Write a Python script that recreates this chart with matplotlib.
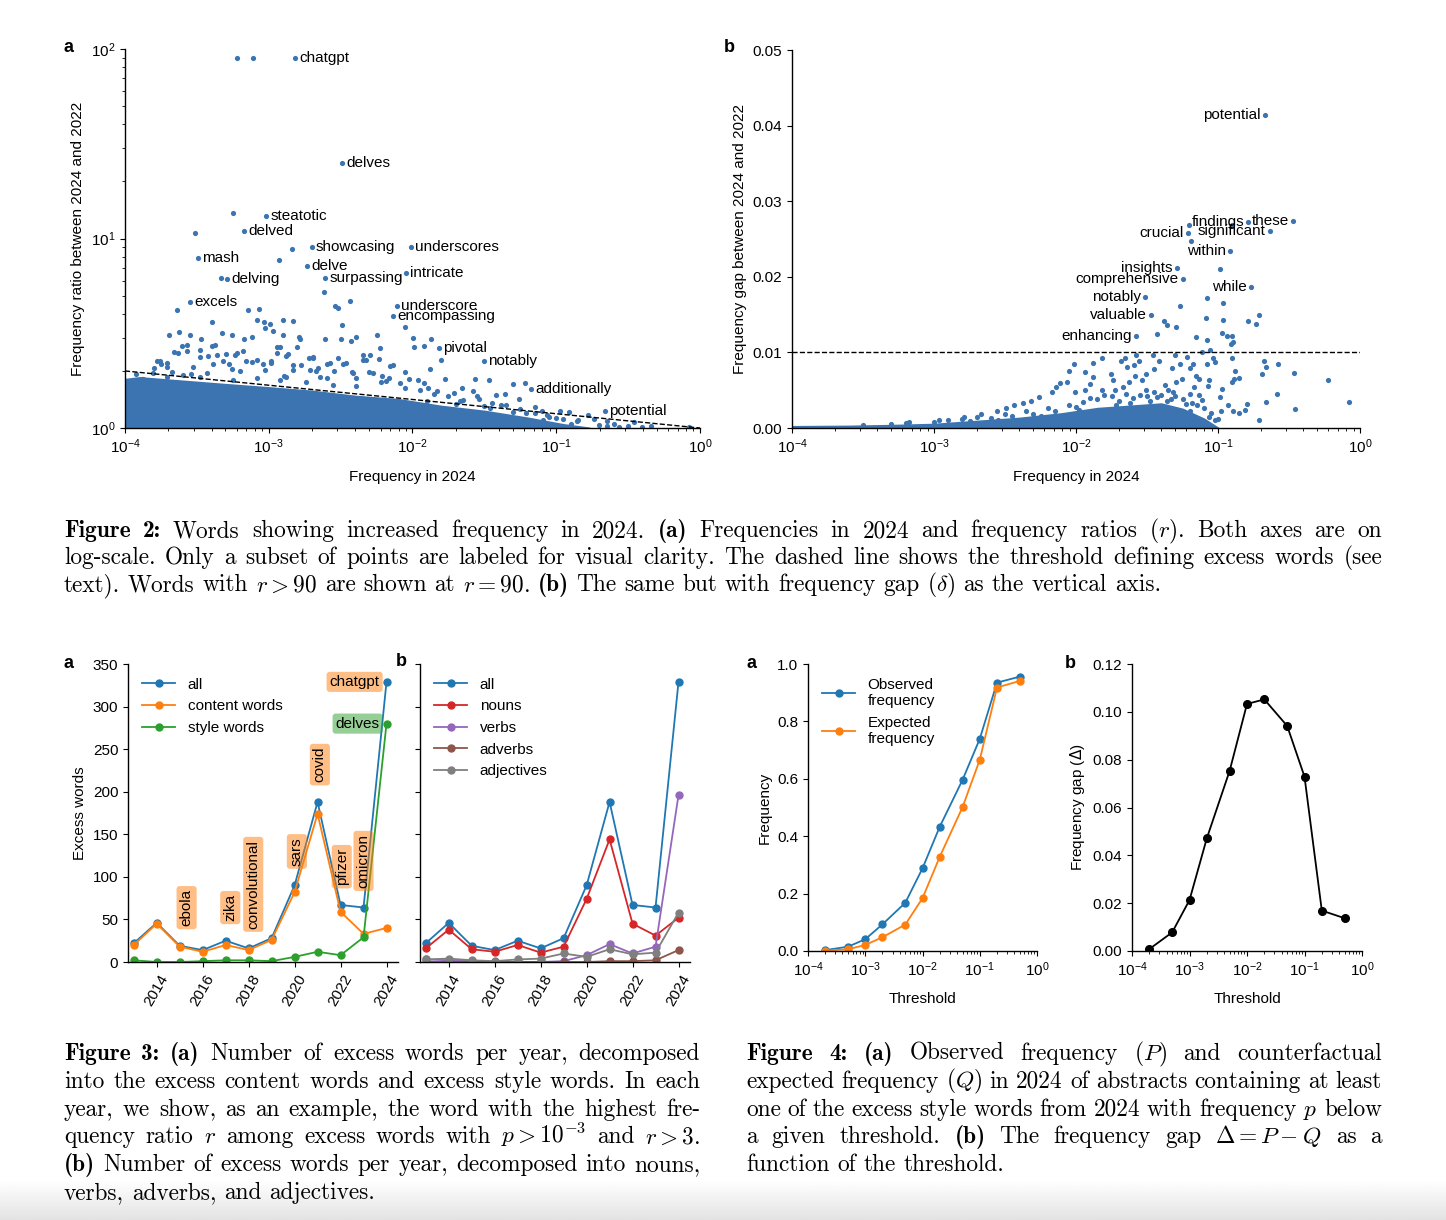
import numpy as np
import matplotlib
matplotlib.use("Agg")
import matplotlib.pyplot as plt

plt.rcParams['font.family'] = ['Liberation Sans', 'DejaVu Sans']
plt.rcParams['font.size'] = 11
plt.rcParams['axes.spines.top'] = False
plt.rcParams['axes.spines.right'] = False
plt.rcParams['axes.linewidth'] = 1.0

W, H = 1446, 1220
BLUE = '#3b74b0'

# ---------------- Figure 2a: frequency in 2024 vs ratio (log10 values)
words_a = ['chatgpt', 'delves', 'steatotic', 'delved', 'showcasing', 'underscores', 'mash', 'delve',
           'intricate', 'delving', 'surpassing', 'excels', 'underscore', 'encompassing', 'pivotal',
           'notably', 'additionally', 'potential']
words_a_logf = [-2.819, -2.489, -3.017, -3.173, -2.701, -2.013, -3.492, -2.734,
                -2.043, -3.291, -2.607, -3.548, -2.111, -2.134, -1.818,
                -1.506, -1.175, -0.661]
words_a_logr = [1.954, 1.401, 1.117, 1.039, 0.957, 0.957, 0.895, 0.856,
                0.819, 0.784, 0.791, 0.665, 0.642, 0.592, 0.420,
                0.355, 0.204, 0.089]

# other visible points of panel a
other_a_logf = [-3.218, -3.109, -3.247, -3.513, -2.840, -2.928, -3.330, -2.616, -2.435,
                -3.637, -3.144, -3.070, -2.539, -2.515, -3.395, -3.079, -3.032, -2.990, -2.899,
                -2.828, -2.489, -3.696, -3.625, -3.548, -3.327, -3.256, -3.026, -2.973, -2.899,
                -2.793, -2.781, -2.610, -2.497, -2.427, -2.394, -2.244, -2.052, -1.999, -1.872,
                -1.993, -1.919, -2.229, -1.801, -1.877, -3.661, -3.601, -3.472, -3.475, -3.395,
                -3.173, -3.114, -2.946, -2.869, -2.804, -2.943, -3.297, -3.238, -3.179, -3.572,
                -2.722, -2.695, -2.598, -2.480, -2.341, -2.297, -2.235, -2.155, -1.771, -1.565,
                -1.467, -1.299, -1.216, -1.260, -1.358, -1.417, -1.653, -1.712, -1.579, -0.974,
                -0.909, -0.779, -0.738, -0.649, -0.561, -0.458, -0.339, -0.074, -3.779, -3.749,
                -3.796, -3.705, -3.424, -3.386, -3.277, -3.203, -3.114, -3.041, -2.982, -2.834,
                -2.716, -2.672, -2.545, -2.421, -2.391, -2.303, -2.214, -2.052, -2.022, -1.963,
                -1.919, -1.889, -1.830, -2.185, -2.090, -1.535, -1.151, -1.063, -1.387, -1.092,
                -0.856, -1.461, -1.668, -1.210, -3.926, -3.962, -3.882, -3.542, -2.893, -2.598,
                -0.649, -1.004,
                # points hugging the dense cloud
                -3.757, -3.711, -3.931, -3.873, -3.803, -3.676, -3.630, -3.567, -3.479, -3.526,
                -3.433, -3.375, -3.359, -3.317, -3.259, -3.224, -3.155, -3.085, -3.028, -2.981,
                -2.924, -2.877, -2.831, -2.773, -2.692, -2.658, -2.576, -2.519, -2.461, -2.414,
                -2.345, -2.322, -2.276, -2.217, -2.160, -2.137, -3.248, -3.085, -2.924, -2.738,
                -2.553, -2.391, -3.479, -3.595, -3.711, -2.877, -2.646,
                -1.95, -1.85, -1.75, -1.65, -1.55, -1.45, -1.35, -1.25, -1.15, -1.05,
                -0.95, -0.85, -2.05, -1.90, -1.70, -1.50, -1.30, -1.10, -0.90, -0.70,
                -0.60, -0.50, -0.40]
other_a_logr = [1.954, 1.954, 1.133, 1.028, 0.947, 0.887, 0.794, 0.716, 0.670,
                0.621, 0.624, 0.628, 0.645, 0.635, 0.557, 0.571, 0.557, 0.550, 0.571,
                0.567, 0.546, 0.493, 0.507, 0.493, 0.502, 0.493, 0.528, 0.514, 0.493,
                0.482, 0.468, 0.470, 0.472, 0.461, 0.479, 0.493, 0.532, 0.475, 0.470,
                0.429, 0.434, 0.422, 0.358, 0.309, 0.399, 0.434, 0.470, 0.411, 0.433,
                0.470, 0.482, 0.426, 0.390, 0.429, 0.397, 0.390, 0.387, 0.404, 0.408,
                0.369, 0.369, 0.340, 0.337, 0.358, 0.387, 0.363, 0.328, 0.257, 0.261,
                0.254, 0.234, 0.239, 0.151, 0.177, 0.172, 0.209, 0.186, 0.195, 0.092,
                0.083, 0.071, 0.048, 0.009, 0.004, 0.032, 0.009, 0.004, 0.351, 0.337,
                0.319, 0.323, 0.381, 0.337, 0.337, 0.301, 0.346, 0.340, 0.355, 0.333,
                0.305, 0.301, 0.301, 0.293, 0.262, 0.293, 0.275, 0.293, 0.257, 0.252,
                0.239, 0.213, 0.195, 0.248, 0.239, 0.151, 0.110, 0.071, 0.124, 0.044,
                0.035, 0.106, 0.142, 0.080, 0.284, 0.239, 0.257, 0.284, 0.275, 0.266,
                0.035, 0.053,
                0.351, 0.342, 0.245, 0.258, 0.289, 0.298, 0.398, 0.439, 0.377, 0.324,
                0.289, 0.439, 0.386, 0.351, 0.311, 0.395, 0.351, 0.360, 0.307, 0.342,
                0.427, 0.381, 0.307, 0.333, 0.377, 0.316, 0.342, 0.369, 0.342, 0.289,
                0.386, 0.360, 0.289, 0.245, 0.263, 0.333, 0.254, 0.263, 0.254, 0.245,
                0.228, 0.219, 0.271, 0.280, 0.271, 0.271, 0.271,
                0.200, 0.180, 0.170, 0.150, 0.170, 0.130, 0.120, 0.100, 0.080, 0.060,
                0.050, 0.040, 0.210, 0.145, 0.125, 0.115, 0.085, 0.090, 0.020, 0.015,
                0.020, 0.012, 0.005]

# upper edge of the dense cloud of points in panel a
cloud_a_logf = [-4.0, -3.9, -3.75, -3.6, -3.3, -3.0, -2.7, -2.4, -2.1, -1.8, -1.5, -1.2, -0.95, -0.77]
cloud_a_logr = [0.257, 0.266, 0.257, 0.248, 0.230, 0.213, 0.195, 0.168, 0.151, 0.115, 0.089, 0.053, 0.018, 0.0]

# threshold (dashed) line
thr_a_f = [1e-4, 1.0]
thr_a_r = [2.0, 1.0]

# ---------------- Figure 2b: frequency gap
words_b = ['potential', 'these', 'findings', 'significant', 'crucial', 'within', 'insights',
           'comprehensive', 'while', 'notably', 'valuable', 'enhancing']
words_b_logf = [-0.670, -0.472, -0.788, -0.635, -1.210, -0.915, -1.290,
                -1.249, -0.768, -1.514, -1.470, -1.579]
words_b_gap = [0.0414, 0.0274, 0.0273, 0.0260, 0.0258, 0.0234, 0.0212,
               0.0197, 0.0186, 0.0173, 0.0150, 0.0122]

other_b_logf = [-1.204, -1.190, -0.900, -0.989, -1.077, -0.968, -1.269, -0.711, -0.788, -0.729,
                -1.083, -0.968, -1.382, -1.358, -1.299, -1.430, -1.158, -0.974, -0.935, -0.900,
                -1.077, -0.906, -0.892, -1.054, -1.116,
                -0.227, -0.074, -0.458, -0.466, -0.576, -0.664, -0.688, -0.679, -0.582, -0.664,
                -0.711, -0.797, -0.812, -0.850, -0.894, -0.930, -0.980, -0.877, -0.886, -0.850,
                -0.900, -0.900, -0.974, -0.989, -1.063, -1.072, -1.018, -1.033, -1.077, -1.137,
                -1.157, -1.166, -1.137, -1.113, -1.175, -1.196, -1.216, -1.269, -1.255, -1.305,
                -1.322, -1.299, -1.314, -1.373, -1.417, -1.452, -1.461, -1.506, -1.535, -1.556,
                -1.579, -1.594, -1.638, -1.653, -1.683, -1.585, -1.624, -1.668, -1.742, -1.756,
                -1.815, -1.883, -1.939, -2.013, -2.052, -2.066, -2.111, -2.140, -1.880, -1.815,
                -1.934, -2.007, -1.904, -1.727, -1.506, -1.432, -1.358, -1.225, -1.196, -1.063,
                -1.018, -2.258, -2.317, -2.435, -2.553, -2.672, -2.790, -2.967, -3.173, -2.170,
                -2.376, -2.494,
                # points hugging the dense cloud
                -3.0, -2.9, -2.8, -2.7, -2.6, -2.5, -2.45, -2.35, -2.3, -2.2,
                -2.15, -2.05, -2.0, -1.95, -1.9, -1.85, -1.8, -1.75, -1.7, -1.65,
                -1.6, -1.55, -1.5, -1.45, -1.4, -1.35, -1.3, -1.25, -1.2, -1.15,
                -1.1, -1.05, -1.0, -3.3, -3.5, -3.2, -2.75, -2.55, -2.25, -1.98,
                -1.72, -1.62, -1.48, -1.33, -1.18]
other_b_gap = [0.0268, 0.0248, 0.0268, 0.0210, 0.0172, 0.0166, 0.0162, 0.0150, 0.0142, 0.0138,
               0.0146, 0.0143, 0.0141, 0.0136, 0.0133, 0.0124, 0.0121, 0.0126, 0.0122, 0.0122,
               0.0116, 0.0111, 0.0114, 0.0103, 0.0100,
               0.0063, 0.0034, 0.0025, 0.0073, 0.0085, 0.0081, 0.0072, 0.0088, 0.0045, 0.0035,
               0.0011, 0.0032, 0.0024, 0.0020, 0.0022, 0.0030, 0.0022, 0.0076, 0.0065, 0.0066,
               0.0061, 0.0092, 0.0051, 0.0041, 0.0063, 0.0055, 0.0087, 0.0092, 0.0085, 0.0065,
               0.0069, 0.0054, 0.0043, 0.0037, 0.0085, 0.0080, 0.0094, 0.0084, 0.0065, 0.0096,
               0.0079, 0.0061, 0.0047, 0.0057, 0.0089, 0.0078, 0.0096, 0.0071, 0.0063, 0.0089,
               0.0096, 0.0083, 0.0081, 0.0092, 0.0089, 0.0069, 0.0061, 0.0054, 0.0063, 0.0072,
               0.0092, 0.0086, 0.0074, 0.0085, 0.0075, 0.0061, 0.0059, 0.0054, 0.0067, 0.0050,
               0.0050, 0.0047, 0.0058, 0.0050, 0.0050, 0.0041, 0.0036, 0.0032, 0.0023, 0.0014,
               0.0010, 0.0041, 0.0036, 0.0030, 0.0023, 0.0019, 0.0014, 0.0011, 0.0008, 0.0047,
               0.0033, 0.0027,
               0.0008, 0.0010, 0.0012, 0.0015, 0.0013, 0.0018, 0.0016, 0.0022, 0.0019, 0.0026,
               0.0022, 0.0030, 0.0028, 0.0035, 0.0040, 0.0038, 0.0044, 0.0042, 0.0036, 0.0045,
               0.0040, 0.0044, 0.0042, 0.0047, 0.0044, 0.0050, 0.0042, 0.0039, 0.0045, 0.0030,
               0.0026, 0.0020, 0.0012, 0.0005, 0.0004, 0.0006, 0.0009, 0.0011, 0.0016, 0.0024,
               0.0030, 0.0033, 0.0036, 0.0038, 0.0033]

cloud_b_logf = [-4.0, -3.6, -3.3, -3.0, -2.7, -2.4, -2.1, -1.85, -1.55, -1.40, -1.25, -1.10, -1.00]
cloud_b_gap = [0.0002, 0.00025, 0.00035, 0.0005, 0.0009, 0.0013, 0.0019, 0.0026, 0.0030, 0.0032,
               0.0025, 0.0012, 0.0]

gap_threshold = 0.01

# ---------------- Figure 3: excess words per year
years = [2013, 2014, 2015, 2016, 2017, 2018, 2019, 2020, 2021, 2022, 2023, 2024]
all_words = [22, 46, 19, 14, 25, 16, 28, 90, 188, 67, 64, 329]
content_words = [20, 45, 18, 12, 20, 14, 26, 82, 174, 59, 33, 40]
style_words = [2, 0, 0, 1, 2, 2, 1, 6, 12, 8, 29, 280]
nouns = [16, 38, 15, 12, 20, 11, 18, 74, 144, 45, 31, 52]
verbs = [3, 2, 1, 0, 0, 0, 1, 8, 21, 10, 18, 196]
adverbs = [0, 0, 0, 0, 0, 0, 0, 0, 1, 1, 2, 14]
adjectives = [3, 4, 2, 1, 3, 4, 10, 6, 15, 9, 11, 58]

top_word_years = [2015, 2017, 2018, 2020, 2021, 2022, 2023]
top_words = ['ebola', 'zika', 'convolutional', 'sars', 'covid', 'pfizer', 'omicron']
top_word_shift = [0.3, 0.2, 0.2, 0.1, 0.1, 0.05, 0.0]   # small x nudges of the labels

# ---------------- Figure 4: observed vs expected frequency
thresholds = [2e-4, 5e-4, 1e-3, 2e-3, 5e-3, 1e-2, 2e-2, 5e-2, 0.1, 0.2, 0.5]
observed = [0.003, 0.015, 0.041, 0.093, 0.168, 0.288, 0.433, 0.596, 0.739, 0.935, 0.956]
expected = [0.001, 0.006, 0.021, 0.048, 0.092, 0.184, 0.328, 0.501, 0.666, 0.918, 0.941]
freq_gap = [0.0008, 0.0078, 0.0213, 0.0471, 0.0754, 0.1033, 0.1052, 0.0941, 0.0729, 0.0169, 0.0137]


def px_axes(fig, left, top, right, bottom):
    return fig.add_axes([left / W, 1 - bottom / H, (right - left) / W, (bottom - top) / H])


def panel_letter(fig, x, y, s):
    fig.text(x / W, 1 - y / H, s, fontsize=13, fontweight='bold', ha='center', va='center')


def caption(fig, lines, x0, x1, y0, dy, size=16.8):
    """Justified caption lines drawn word by word; '**' marks a bold word."""
    renderer = fig.canvas.get_renderer()
    for i, (line, last) in enumerate(lines):
        words = line.split(' ')
        y = 1 - (y0 + i * dy) / H
        texts = []
        for w in words:
            fam = 'cmr10'
            if w.startswith('**'):
                fam, w = 'cmb10', w[2:]
            texts.append(fig.text(0, y, w, fontsize=size, family=fam, math_fontfamily='cm',
                                  va='baseline', ha='left'))
        widths = [t.get_window_extent(renderer).width for t in texts]
        if last or len(words) == 1:
            gap = size * 0.333 * 100 / 72
        else:
            gap = (x1 - x0 - sum(widths)) / (len(words) - 1)
        x = x0
        for t, wd in zip(texts, widths):
            t.set_x(x / W)
            x += wd + gap


fig = plt.figure(figsize=(W / 100, H / 100), dpi=100)

# background shading at the bottom of the page
bg = fig.add_axes([0, 0, 1, 40 / H], zorder=-10)
bg.imshow(np.linspace(1, 0, 50).reshape(-1, 1), aspect='auto', cmap='gray',
          vmin=-8, vmax=1, extent=[0, 1, 0, 1])
bg.axis('off')

# ---- panel 2a
ax = px_axes(fig, 125, 49, 700, 428)
ax.fill_between(10 ** np.array(cloud_a_logf), 1, 10 ** np.array(cloud_a_logr), color=BLUE, lw=1.5,
                edgecolor=BLUE)
ax.scatter(10 ** np.array(other_a_logf), 10 ** np.array(other_a_logr), s=14, color=BLUE, lw=0)
ax.scatter(10 ** np.array(words_a_logf), 10 ** np.array(words_a_logr), s=14, color=BLUE, lw=0)
for w, lf, lr in zip(words_a, words_a_logf, words_a_logr):
    ax.annotate(w, (10 ** lf, 10 ** lr), xytext=(3, 0), textcoords='offset points',
                ha='left', va='center', fontsize=11)
ax.plot(thr_a_f, thr_a_r, 'k--', lw=1)
ax.set_xscale('log')
ax.set_yscale('log')
ax.set_xlim(1e-4, 1)
ax.set_ylim(1, 100)
ax.set_xlabel('Frequency in 2024', labelpad=10)
ax.set_ylabel('Frequency ratio between 2024 and 2022')
panel_letter(fig, 69, 48, 'a')

# ---- panel 2b
ax = px_axes(fig, 792, 50, 1360, 428)
ax.fill_between(10 ** np.array(cloud_b_logf), 0, cloud_b_gap, color=BLUE, lw=1.5, edgecolor=BLUE)
ax.scatter(10 ** np.array(other_b_logf), other_b_gap, s=14, color=BLUE, lw=0)
ax.scatter(10 ** np.array(words_b_logf), words_b_gap, s=14, color=BLUE, lw=0)
for w, lf, g in zip(words_b, words_b_logf, words_b_gap):
    ax.annotate(w, (10 ** lf, g), xytext=(-3, 0), textcoords='offset points',
                ha='right', va='center', fontsize=11)
ax.axhline(gap_threshold, color='k', ls='--', lw=1)
ax.set_xscale('log')
ax.set_xlim(1e-4, 1)
ax.set_ylim(0, 0.05)
ax.set_yticks(np.arange(0, 0.051, 0.01))
ax.set_xlabel('Frequency in 2024', labelpad=10)
ax.set_ylabel('Frequency gap between 2024 and 2022')
panel_letter(fig, 729, 48, 'b')

# ---- panel 3a
ax = px_axes(fig, 128, 664, 398, 962)
ax.plot(years, all_words, 'o-', color='tab:blue', lw=1.3, ms=5, label='all')
ax.plot(years, content_words, 'o-', color='tab:orange', lw=1.3, ms=5, label='content words')
ax.plot(years, style_words, 'o-', color='tab:green', lw=1.3, ms=5, label='style words')
for yr, w, dx in zip(top_word_years, top_words, top_word_shift):
    v = all_words[years.index(yr)]
    ax.text(yr + dx, v + 23, w, rotation=90, ha='center', va='bottom', fontsize=11,
            bbox=dict(boxstyle='round,pad=0.2', fc='tab:orange', ec='none', alpha=0.5))
ax.text(2024 - 0.3, all_words[-1], 'chatgpt', ha='right', va='center', fontsize=11,
        bbox=dict(boxstyle='round,pad=0.2', fc='tab:orange', ec='none', alpha=0.5))
ax.text(2024 - 0.3, style_words[-1], 'delves', ha='right', va='center', fontsize=11,
        bbox=dict(boxstyle='round,pad=0.2', fc='tab:green', ec='none', alpha=0.5))
ax.set_xlim(2012.75, 2024.5)
ax.set_ylim(0, 350)
ax.set_yticks(range(0, 351, 50))
ax.set_xticks(range(2014, 2025, 2))
ax.tick_params(axis='x', labelrotation=60)
ax.set_ylabel('Excess words')
ax.legend(loc='upper left', frameon=False, fontsize=11, handlelength=2.2)
panel_letter(fig, 69, 663, 'a')

# ---- panel 3b
ax = px_axes(fig, 420, 664, 690, 962)
ax.plot(years, all_words, 'o-', color='tab:blue', lw=1.3, ms=5, label='all')
ax.plot(years, nouns, 'o-', color='tab:red', lw=1.3, ms=5, label='nouns')
ax.plot(years, verbs, 'o-', color='tab:purple', lw=1.3, ms=5, label='verbs')
ax.plot(years, adverbs, 'o-', color='tab:brown', lw=1.3, ms=5, label='adverbs')
ax.plot(years, adjectives, 'o-', color='tab:gray', lw=1.3, ms=5, label='adjectives')
ax.set_xlim(2012.75, 2024.5)
ax.set_ylim(0, 350)
ax.set_yticks(range(0, 351, 50))
ax.set_yticklabels([])
ax.set_xticks(range(2014, 2025, 2))
ax.tick_params(axis='x', labelrotation=60)
ax.legend(loc='upper left', frameon=False, fontsize=11, handlelength=2.2)
panel_letter(fig, 401, 662, 'b')

# ---- panel 4a
ax = px_axes(fig, 808, 664, 1037, 951)
ax.plot(thresholds, observed, 'o-', color='tab:blue', lw=1.3, ms=5, label='Observed\nfrequency')
ax.plot(thresholds, expected, 'o-', color='tab:orange', lw=1.3, ms=5, label='Expected\nfrequency')
ax.set_xscale('log')
ax.set_xlim(1e-4, 1)
ax.set_ylim(0, 1.0)
ax.set_yticks(np.arange(0, 1.01, 0.2))
ax.set_xlabel('Threshold', labelpad=9)
ax.set_ylabel('Frequency')
ax.legend(loc='upper left', frameon=False, fontsize=11, handlelength=2.2)
panel_letter(fig, 751, 663, 'a')

# ---- panel 4b
ax = px_axes(fig, 1132, 664, 1362, 951)
ax.plot(thresholds, freq_gap, 'o-', color='k', lw=1.3, ms=5.5)
ax.set_xscale('log')
ax.set_xlim(1e-4, 1)
ax.set_ylim(0, 0.12)
ax.set_yticks(np.arange(0, 0.121, 0.02))
ax.set_xlabel('Threshold', labelpad=9)
ax.set_ylabel(r'Frequency gap ($\mathit{\Delta}$)')
panel_letter(fig, 1070, 663, 'b')

# ---- captions
cap2 = [
    (r'**Figure **2: Words showing increased frequency in 2024. **(a) '
     r'Frequencies in 2024 and frequency ratios $(r)$. Both axes are on', False),
    ('log-scale. Only a subset of points are labeled for visual clarity. The dashed line shows '
     'the threshold defining excess words (see', False),
    (r'text). Words with $r>90$ are shown at $r=90$. **(b) The same but with frequency '
     r'gap $(\delta)$ as the vertical axis.', True),
]
cap3 = [
    (r'**Figure **3: **(a) Number of excess words per year, decomposed', False),
    ('into the excess content words and excess style words. In each', False),
    ('year, we show, as an example, the word with the highest fre-', False),
    (r'quency ratio $r$ among excess words with $p>10^{-3}$ and $r>3$.', False),
    (r'**(b) Number of excess words per year, decomposed into nouns,', False),
    ('verbs, adverbs, and adjectives.', True),
]
cap4 = [
    (r'**Figure **4: **(a) Observed frequency $(P)$ and counterfactual', False),
    (r'expected frequency $(Q)$ in 2024 of abstracts containing at least', False),
    (r'one of the excess style words from 2024 with frequency $p$ below', False),
    (r'a given threshold. **(b) The frequency gap $\Delta=P-Q$ as a', False),
    ('function of the threshold.', True),
]
caption(fig, cap2, 64, 1382, 537, 27.2)
caption(fig, cap3, 64, 700, 1060, 27.8)
caption(fig, cap4, 746, 1382, 1060, 27.8)

fig.savefig('out.png', dpi=100)
